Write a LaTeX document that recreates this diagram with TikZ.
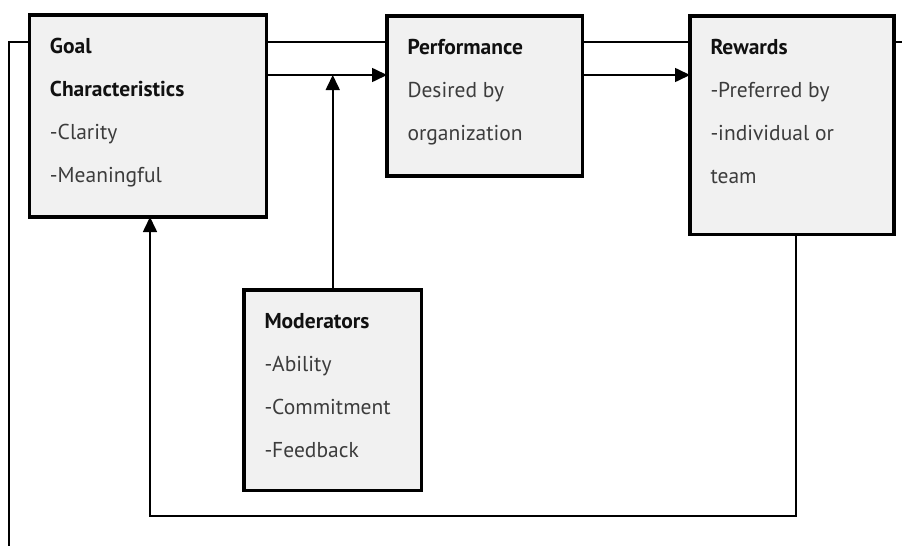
\documentclass[tikz,border=0pt]{standalone}
\usepackage{fontspec}
\setmainfont{PT Sans}
\usetikzlibrary{arrows.meta}
\pgfdeclarelayer{back}
\pgfsetlayers{back,main}
\definecolor{panelfill}{HTML}{F1F1F1}
\definecolor{bodytext}{HTML}{3C3C3C}
\definecolor{headtext}{HTML}{111111}
\tikzset{
  panel/.style={draw=black, line width=3.5pt, fill=panelfill,
    anchor=north west, inner sep=0pt, outer sep=0pt},
  link/.style={draw=black, line width=1.6pt},
  arrowlink/.style={link, -{Triangle[length=15pt,width=14pt]}},
}
% box body: width, height, lines (top aligned, fixed first baseline)
\newcommand{\panelbody}[3]{%
  \parbox[c][#2][t]{#1}{\fontsize{21.5}{43}\selectfont
    \raggedright\leftskip=20.5pt\hbadness=10000\hfuzz=100pt
    \rule{0pt}{38.5pt}#3}}
\newcommand{\hd}[1]{{\color{headtext}\bfseries #1}}
\newcommand{\bd}[1]{{\color{bodytext}#1}}
\begin{document}
\begin{tikzpicture}[x=1pt,y=-1pt]
  \useasboundingbox (0,0) rectangle (902,546);

  % boxes
  \node[panel] (goal) at (29.5,15)
    {\panelbody{237pt}{202pt}{\hd{Goal}\\\hd{Characteristics}\\\bd{-Clarity}\\\bd{-Meaningful}}};
  \node[panel] (perf) at (387,16)
    {\panelbody{195.5pt}{160pt}{\hd{Performance}\\\bd{Desired by}\\\bd{organization}}};
  \node[panel] (rew) at (690,16)
    {\panelbody{204pt}{218.5pt}{\hd{Rewards}\\\bd{-Preferred by}\\\bd{-individual or}\\\bd{team}}};
  \node[panel] (mod) at (244,290)
    {\panelbody{177.5pt}{200.5pt}{\hd{Moderators}\\\bd{-Ability}\\\bd{-Commitment}\\\bd{-Feedback}}};

  % helper coordinates
  \coordinate (topright) at (902,42);
  \coordinate (leftdrop) at (9,546);
  \coordinate (mid) at (0,75);
  \coordinate (fbr) at (796,516);
  \coordinate (fbl) at (150,516);

  % long line running behind the boxes
  \begin{pgfonlayer}{back}
    \draw[link] (topright) -| (leftdrop);
  \end{pgfonlayer}

  % main flow
  \draw[arrowlink] (goal.east |- mid) -- (perf.west |- mid);
  \draw[arrowlink] (perf.east |- mid) -- (rew.west |- mid);

  % moderators feed into the goal-performance link
  \draw[arrowlink] (mod.north) -- (mod.north |- mid);

  % feedback from rewards back to goal characteristics
  \draw[arrowlink] (rew.south -| fbr) -- (fbr) -- (fbl) -- (goal.south -| fbl);
\end{tikzpicture}
\end{document}
